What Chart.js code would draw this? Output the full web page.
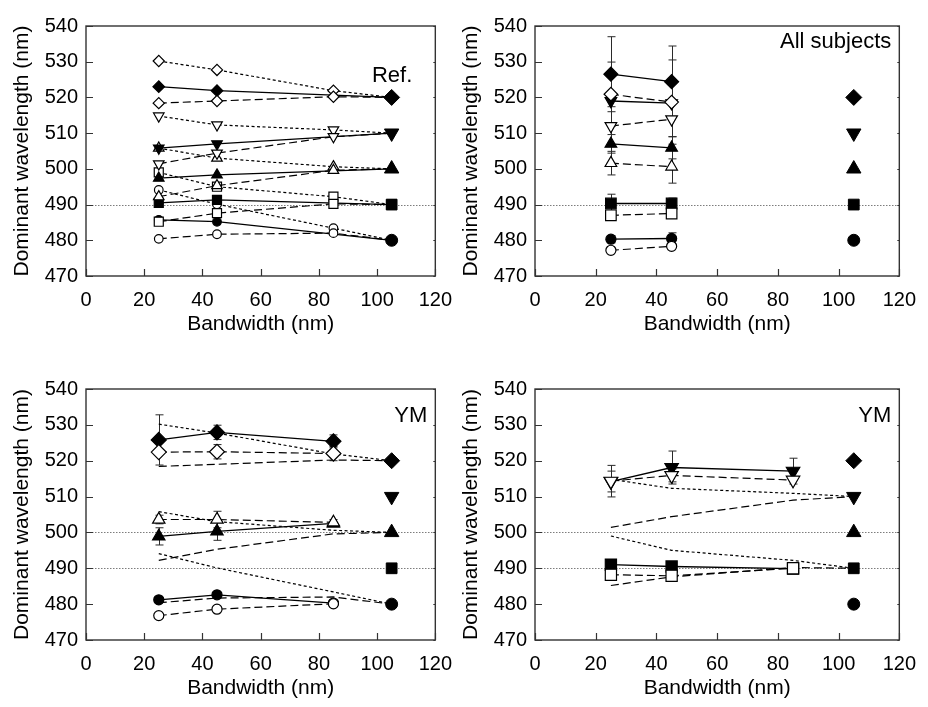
<!DOCTYPE html>
<html>
<head>
<meta charset="utf-8">
<script src="https://cdn.jsdelivr.net/npm/chart.js@4.4.0/dist/chart.umd.min.js"></script>
<style>
  html, body { margin: 0; padding: 0; background: #fff; }
  #wrap { position: relative; width: 928px; height: 707px; overflow: hidden; background: #fff; }
  #wrap canvas { position: absolute; }
</style>
</head>
<body>
<div id="wrap">
  <canvas id="pRef" width="464" height="340" style="left:0px;top:0px"></canvas>
  <canvas id="pAll" width="472" height="340" style="left:456px;top:0px"></canvas>
  <canvas id="pYmA" width="464" height="367" style="left:0px;top:340px"></canvas>
  <canvas id="pYmB" width="472" height="367" style="left:456px;top:340px"></canvas>
</div>
<script>
// ---- axes ----
const xTicks = [0, 20, 40, 60, 80, 100, 120];
const yTicks = [470, 480, 490, 500, 510, 520, 530, 540];
const referenceWavelengths = [520, 510, 500, 490, 480];
const referenceBandwidth = 105;

// ---- Ref. ----
const refBw = [25, 45, 85, 105];
const refSolidBw = [25, 45, 105];
const refDotted520 = [530.2, 527.7, 521.9, 520];
const refDotted510 = [514.8, 512.3, 510.9, 510];
const refDotted500 = [505.8, 503.0, 500.6, 500];
const refDotted490 = [499.0, 495.0, 492.2, 490];
const refDotted480 = [494.1, 490.1, 483.4, 480];
const refSolid520 = [523.0, 521.9, 520];
const refSolid510 = [505.8, 507.0, 510];
const refSolid500 = [497.4, 498.3, 500];
const refSolid490 = [490.5, 491.3, 490];
const refSolid480 = [485.7, 485.2, 480];
const refDashed520 = [518.4, 519.0, 520.2, 520];
const refDashed510 = [501.4, 504.4, 509.0, 510];
const refDashed500 = [492.2, 495.3, 499.6, 500];
const refDashed490 = [485.2, 487.6, 490.2, 490];
const refDashed480 = [480.4, 481.7, 482.0, 480];

// ---- All subjects (means and SD) ----
const allBw = [25, 45];
const allSolid520 = [526.5, 524.4];   const allSolidSd520 = [10.5, 10.0];
const allDashed520 = [520.9, 518.7];  const allDashedSd520 = [9.0, 11.8];
const allSolid510 = [519.0, 518.4];   const allSolidSd510 = [0, 0];
const allDashed510 = [512.0, 513.9];  const allDashedSd510 = [5.4, 4.9];
const allSolid500 = [507.0, 505.9];   const allSolidSd500 = [2.6, 3.1];
const allDashed500 = [501.6, 500.6];  const allDashedSd500 = [3.3, 4.6];
const allSolid490 = [490.3, 490.3];   const allSolidSd490 = [2.6, 1.5];
const allDashed490 = [487.0, 487.5];  const allDashedSd490 = [0, 0];
const allSolid480 = [480.3, 480.5];   const allSolidSd480 = [1.0, 1.6];
const allDashed480 = [477.2, 478.3];  const allDashedSd480 = [0, 0];

// ---- YM (means and SD) ----
const ymBw = [25, 45, 85];
const ymSolid520 = [525.8, 527.9, 525.4];  const ymSolidSd520 = [7.0, 2.0, 1.8];
const ymDashed520 = [522.4, 522.5, 522.0]; const ymDashedSd520 = [0, 2.0, 2.0];
const ymSolid500 = [498.9, 500.3, 502.5];  const ymSolidSd500 = [2.4, 2.5, 0];
const ymDashed500 = [503.6, 503.6, 502.8]; const ymDashedSd500 = [1.2, 2.3, 0.8];
const ymSolid480 = [481.2, 482.6, 480.3];  const ymSolidSd480 = [0.6, 0.6, 0];
const ymDashed480 = [476.8, 478.6, 480.1]; const ymDashedSd480 = [0, 0, 0];
const ymSolid510 = [514.2, 518.1, 517.1];  const ymSolidSd510 = [2.9, 4.6, 3.6];
const ymDashed510 = [514.3, 515.9, 514.6]; const ymDashedSd510 = [4.4, 1.8, 0];
const ymSolid490 = [491.0, 490.5, 489.9];  const ymSolidSd490 = [0, 0, 0];
const ymDashed490 = [488.2, 487.9, 490.0]; const ymDashedSd490 = [0, 0, 0];

// ---- styling ----
const FONT = '"Liberation Sans", Arial, Helvetica, sans-serif';
const SHAPE = {
  520: { style: 'rectRot', rot: 0, k: 1.0 },
  510: { style: 'triangle', rot: 180, k: 1.05 },
  500: { style: 'triangle', rot: 0, k: 1.05 },
  490: { style: 'rect', rot: 0, k: 1.1 },
  480: { style: 'circle', rot: 0, k: 0.72 }
};
const LINE = {
  solid:  { dash: [],     width: 1.3, fill: '#000', order: 2 },
  dashed: { dash: [8, 4], width: 1.2, fill: '#fff', order: 1 },
  dotted: { dash: [3, 2.5], width: 1.2, fill: '#fff', order: 3 },
  plainDotted: { dash: [3, 2.5], width: 1.2, fill: '#fff', order: 5 },
  plainDashed: { dash: [8, 4], width: 1.2, fill: '#fff', order: 5 }
};

function series(bw, vals, wl, kind, size, sd) {
  const s = SHAPE[wl], l = LINE[kind];
  const plain = kind.startsWith('plain');
  return {
    data: bw.map((x, i) => ({ x: x, y: vals[i] })),
    showLine: true,
    borderColor: '#000',
    borderWidth: l.width,
    borderDash: l.dash,
    pointStyle: s.style,
    pointRotation: s.rot,
    pointRadius: plain ? 0 : size * s.k,
    pointBackgroundColor: l.fill,
    pointBorderColor: '#000',
    pointBorderWidth: 1.2,
    order: l.order,
    errors: sd || null
  };
}

function referenceMarkers() {
  const big = { 520: 8, 510: 8.3, 500: 8.3, 490: 7.6, 480: 6 };
  return {
    data: referenceWavelengths.map(v => ({ x: referenceBandwidth, y: v })),
    showLine: false,
    pointStyle: referenceWavelengths.map(v => SHAPE[v].style),
    pointRotation: referenceWavelengths.map(v => SHAPE[v].rot),
    pointRadius: referenceWavelengths.map(v => big[v]),
    pointBackgroundColor: '#000',
    pointBorderColor: '#000',
    pointBorderWidth: 1,
    order: 0
  };
}

// frame, inward ticks, dotted guide lines, error bars and the panel caption
const panelDecor = {
  id: 'panelDecor',
  beforeDatasetsDraw(chart, args, opts) {
    const { ctx, chartArea: a, scales: { x, y } } = chart;
    ctx.save();
    ctx.strokeStyle = '#6e6e6e';
    ctx.lineWidth = 0.9;
    ctx.setLineDash([1.5, 1.5]);
    (opts.guides || []).forEach(v => {
      const py = Math.round(y.getPixelForValue(v)) + 0.5;
      ctx.beginPath(); ctx.moveTo(a.left, py); ctx.lineTo(a.right, py); ctx.stroke();
    });
    ctx.setLineDash([]);
    ctx.strokeStyle = '#2a2a2a';
    ctx.lineWidth = 1;
    chart.data.datasets.forEach((ds, di) => {
      if (!ds.errors) return;
      const meta = chart.getDatasetMeta(di);
      meta.data.forEach((pt, i) => {
        const e = ds.errors[i];
        if (!e) return;
        const v = ds.data[i].y;
        const t = y.getPixelForValue(v + e), b = y.getPixelForValue(v - e);
        const px = Math.round(pt.x) + 0.5;
        ctx.beginPath();
        ctx.moveTo(px, t); ctx.lineTo(px, b);
        ctx.moveTo(px - 4, t); ctx.lineTo(px + 4, t);
        ctx.moveTo(px - 4, b); ctx.lineTo(px + 4, b);
        ctx.stroke();
      });
    });
    ctx.restore();
  },
  afterDraw(chart, args, opts) {
    const { ctx, chartArea: a, scales: { x, y } } = chart;
    ctx.save();
    ctx.strokeStyle = '#333';
    ctx.lineWidth = 1.4;
    ctx.strokeRect(a.left, a.top, a.right - a.left, a.bottom - a.top);
    ctx.lineWidth = 1.2;
    ctx.beginPath();
    xTicks.forEach(v => {
      const px = Math.round(x.getPixelForValue(v)) + 0.5;
      ctx.moveTo(px, a.bottom); ctx.lineTo(px, a.bottom - 7);
    });
    yTicks.forEach(v => {
      const py = Math.round(y.getPixelForValue(v)) + 0.5;
      ctx.moveTo(a.left, py); ctx.lineTo(a.left + 7, py);
      ctx.moveTo(a.right, py); ctx.lineTo(a.right - 2, py);
    });
    ctx.stroke();
    if (opts.caption) {
      ctx.fillStyle = '#000';
      ctx.font = '22px ' + FONT;
      ctx.textAlign = 'right';
      ctx.textBaseline = 'alphabetic';
      ctx.fillText(opts.caption.text, a.right - opts.caption.dx, a.top + opts.caption.dy);
    }
    ctx.restore();
  }
};

function makePanel(id, datasets, geo) {
  return new Chart(document.getElementById(id), {
    type: 'scatter',
    data: { datasets: datasets },
    plugins: [panelDecor],
    options: {
      responsive: false,
      animation: false,
      events: [],
      layout: { padding: { top: geo.padTop, right: geo.padRight, left: 0, bottom: 0 } },
      plugins: {
        legend: { display: false },
        tooltip: { enabled: false },
        panelDecor: { guides: geo.guides, caption: geo.caption }
      },
      scales: {
        x: {
          type: 'linear', min: 0, max: 120,
          afterBuildTicks: s => { s.ticks = xTicks.map(v => ({ value: v })); },
          afterFit: s => { s.height = geo.xHeight; },
          grid: { display: false, drawTicks: false },
          border: { display: false },
          ticks: { color: '#000', padding: 12, maxRotation: 0, font: { family: FONT, size: 20 } },
          title: { display: true, text: 'Bandwidth (nm)', color: '#000',
                   padding: { top: 0, bottom: geo.xTitlePad }, font: { family: FONT, size: 21 } }
        },
        y: {
          type: 'linear', min: 470, max: 540,
          afterBuildTicks: s => { s.ticks = yTicks.map(v => ({ value: v })); },
          afterFit: s => { s.width = geo.yWidth; },
          grid: { display: false, drawTicks: false },
          border: { display: false },
          ticks: { color: '#000', padding: 8, font: { family: FONT, size: 20 } },
          title: { display: true, text: 'Dominant wavelength (nm)', color: '#000',
                   padding: { top: geo.yTitlePad, bottom: 0 }, font: { family: FONT, size: 21 } }
        }
      }
    }
  });
}

// Ref. panel: three conditions per reference wavelength
const refSets = [
  series(refBw, refDotted520, 520, 'dotted', 5.6),
  series(refBw, refDotted510, 510, 'dotted', 5.8),
  series(refBw, refDotted500, 500, 'dotted', 5.8),
  series(refBw, refDotted490, 490, 'dotted', 5.8),
  series(refBw, refDotted480, 480, 'dotted', 6),
  series(refSolidBw, refSolid520, 520, 'solid', 5.8),
  series(refSolidBw, refSolid510, 510, 'solid', 5.8),
  series(refSolidBw, refSolid500, 500, 'solid', 5.8),
  series(refSolidBw, refSolid490, 490, 'solid', 5.8),
  series(refSolidBw, refSolid480, 480, 'solid', 6),
  series(refBw, refDashed520, 520, 'dashed', 5.6),
  series(refBw, refDashed510, 510, 'dashed', 5.8),
  series(refBw, refDashed500, 500, 'dashed', 5.8),
  series(refBw, refDashed490, 490, 'dashed', 5.8),
  series(refBw, refDashed480, 480, 'dashed', 6),
  referenceMarkers()
];
makePanel('pRef', refSets, {
  padTop: 26, padRight: 4, yWidth: 86, xHeight: 64, xTitlePad: 3, yTitlePad: 10,
  guides: [490], caption: { text: 'Ref.', dx: 23, dy: 56 }
});

// All subjects
const allSets = [
  series(allBw, allSolid520, 520, 'solid', 7, allSolidSd520),
  series(allBw, allDashed520, 520, 'dashed', 6.8, allDashedSd520),
  series(allBw, allSolid510, 510, 'solid', 6.4, allSolidSd510),
  series(allBw, allDashed510, 510, 'dashed', 6.4, allDashedSd510),
  series(allBw, allSolid500, 500, 'solid', 6.4, allSolidSd500),
  series(allBw, allDashed500, 500, 'dashed', 6.4, allDashedSd500),
  series(allBw, allSolid490, 490, 'solid', 6.8, allSolidSd490),
  series(allBw, allDashed490, 490, 'dashed', 6.8, allDashedSd490),
  series(allBw, allSolid480, 480, 'solid', 7, allSolidSd480),
  series(allBw, allDashed480, 480, 'dashed', 7, allDashedSd480),
  referenceMarkers()
];
makePanel('pAll', allSets, {
  padTop: 26, padRight: 18, yWidth: 79, xHeight: 64, xTitlePad: 3, yTitlePad: 3,
  guides: [490], caption: { text: 'All subjects', dx: 8, dy: 22 }
});

// YM: 520, 500 and 480 nm, with the Ref. dotted/dashed conditions for comparison
const ymSetsA = [
  series(refBw, refDotted520, 520, 'plainDotted', 0),
  series(refBw, refDashed520, 520, 'plainDashed', 0),
  series(refBw, refDotted500, 500, 'plainDotted', 0),
  series(refBw, refDashed500, 500, 'plainDashed', 0),
  series(refBw, refDotted480, 480, 'plainDotted', 0),
  series(refBw, refDashed480, 480, 'plainDashed', 0),
  series(ymBw, ymSolid520, 520, 'solid', 7.5, ymSolidSd520),
  series(ymBw, ymDashed520, 520, 'dashed', 7.5, ymDashedSd520),
  series(ymBw, ymSolid500, 500, 'solid', 6.8, ymSolidSd500),
  series(ymBw, ymDashed500, 500, 'dashed', 6.8, ymDashedSd500),
  series(ymBw, ymSolid480, 480, 'solid', 7, ymSolidSd480),
  series(ymBw, ymDashed480, 480, 'dashed', 7, ymDashedSd480),
  referenceMarkers()
];
makePanel('pYmA', ymSetsA, {
  padTop: 49, padRight: 4, yWidth: 86, xHeight: 67, xTitlePad: 6, yTitlePad: 10,
  guides: [500, 490], caption: { text: 'YM', dx: 8, dy: 33 }
});

// YM: 510 and 490 nm
const ymSetsB = [
  series(refBw, refDotted510, 510, 'plainDotted', 0),
  series(refBw, refDashed510, 510, 'plainDashed', 0),
  series(refBw, refDotted490, 490, 'plainDotted', 0),
  series(refBw, refDashed490, 490, 'plainDashed', 0),
  series(ymBw, ymSolid510, 510, 'solid', 7.4, ymSolidSd510),
  series(ymBw, ymDashed510, 510, 'dashed', 7.4, ymDashedSd510),
  series(ymBw, ymSolid490, 490, 'solid', 7.2, ymSolidSd490),
  series(ymBw, ymDashed490, 490, 'dashed', 7.2, ymDashedSd490),
  referenceMarkers()
];
makePanel('pYmB', ymSetsB, {
  padTop: 49, padRight: 18, yWidth: 79, xHeight: 67, xTitlePad: 6, yTitlePad: 3,
  guides: [500, 490], caption: { text: 'YM', dx: 8, dy: 33 }
});
</script>
</body>
</html>
